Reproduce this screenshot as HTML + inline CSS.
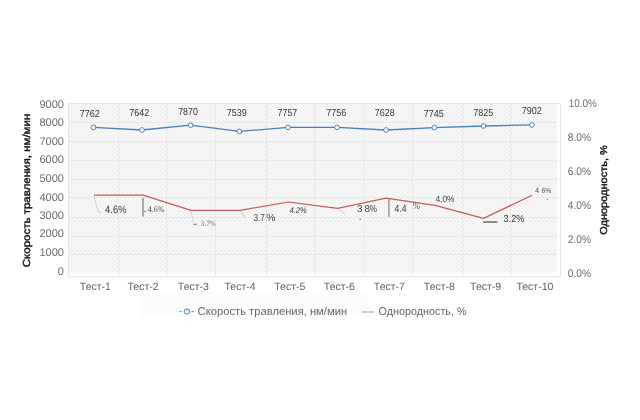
<!DOCTYPE html>
<html><head><meta charset="utf-8">
<style>
html,body{margin:0;padding:0;background:#fff;}
body{width:640px;height:420px;overflow:hidden;}
svg{display:block;filter:blur(0.3px);}
text{text-rendering:geometricPrecision;font-family:"Liberation Sans",Arial,sans-serif;}
.ax{font-size:11px;fill:#6b6b6b;}
.cat{font-size:10.5px;fill:#5f5f5f;}
.dl{font-size:10.1px;fill:#333;}
.ttl{font-size:10.5px;font-weight:normal;fill:#111;stroke:#111;stroke-width:0.38px;}
.lg{font-size:11.3px;fill:#666;}
.serif{font-family:"Liberation Serif",serif;}
</style></head>
<body>
<svg width="640" height="420" viewBox="0 0 640 420">
<defs>
<pattern id="hatch" patternUnits="userSpaceOnUse" x="0" y="0" width="4" height="4">
<rect width="4" height="4" fill="#f5f5f5"/>
<rect x="0" y="0" width="1" height="1" fill="#fbfbfb"/>
<rect x="1" y="1" width="1" height="1" fill="#fbfbfb"/>
<rect x="2" y="2" width="1" height="1" fill="#fbfbfb"/>
<rect x="3" y="3" width="1" height="1" fill="#fbfbfb"/>
<rect x="2" y="0" width="1" height="1" fill="#eeeeee"/>
<rect x="3" y="1" width="1" height="1" fill="#eeeeee"/>
<rect x="0" y="2" width="1" height="1" fill="#eeeeee"/>
<rect x="1" y="3" width="1" height="1" fill="#eeeeee"/>
</pattern>
</defs>
<rect width="640" height="420" fill="#fff"/>
<!-- plot area -->
<rect x="68" y="103" width="489" height="169.5" fill="url(#hatch)"/>
<rect x="68.5" y="103.5" width="492" height="173.3" fill="none" stroke="#e6e6e6" stroke-width="1"/>
<!-- horizontal gridlines -->
<g stroke="#e9e9e9" stroke-width="1">
<line x1="68" x2="557" y1="122.5" y2="122.5"/>
<line x1="68" x2="557" y1="141.5" y2="141.5"/>
<line x1="68" x2="557" y1="160.5" y2="160.5"/>
<line x1="68" x2="557" y1="179.5" y2="179.5"/>
<line x1="68" x2="557" y1="197.5" y2="197.5"/>
<line x1="68" x2="557" y1="217.5" y2="217.5"/>
<line x1="68" x2="557" y1="236.5" y2="236.5"/>
<line x1="68" x2="557" y1="254.5" y2="254.5"/>
</g>
<!-- vertical gridlines -->
<g stroke="#e9e9e9" stroke-width="1">
<line y1="103" y2="276.5" x1="118.5" x2="118.5"/>
<line y1="103" y2="276.5" x1="166.5" x2="166.5"/>
<line y1="103" y2="276.5" x1="215.5" x2="215.5"/>
<line y1="103" y2="276.5" x1="266.5" x2="266.5"/>
<line y1="103" y2="276.5" x1="315" x2="315"/>
<line y1="103" y2="276.5" x1="364" x2="364"/>
<line y1="103" y2="276.5" x1="412.5" x2="412.5"/>
<line y1="103" y2="276.5" x1="462.5" x2="462.5"/>
<line y1="103" y2="276.5" x1="510.5" x2="510.5"/>
</g>

<!-- red series -->
<polyline fill="none" stroke="#c65a5a" stroke-width="1.25" stroke-linejoin="round"
 points="94,195.2 143,195.2 191,210.4 240,210.4 288.5,202 337.6,208.4 386,198.2 435,205.4 483.5,218.4 532,195.3"/>

<!-- blue series -->
<polyline fill="none" stroke="#4a7ebb" stroke-width="1.3" stroke-linejoin="round"
 points="93.4,127.4 142,130 190.6,125.2 239.4,131.4 288,127.4 337,127.4 386,130 434.4,127.6 483.5,126 532,124.9"/>
<g fill="#fff" stroke="#4f82c0" stroke-width="1">
<circle cx="93.4" cy="127.4" r="2.35"/>
<circle cx="142" cy="130" r="2.35"/>
<circle cx="190.6" cy="125.2" r="2.35"/>
<circle cx="239.4" cy="131.4" r="2.35"/>
<circle cx="288" cy="127.4" r="2.35"/>
<circle cx="337" cy="127.4" r="2.35"/>
<circle cx="386" cy="130" r="2.35"/>
<circle cx="434.4" cy="127.6" r="2.35"/>
<circle cx="483.5" cy="126" r="2.35"/>
<circle cx="532" cy="124.9" r="2.35"/>
</g>

<!-- blue data labels -->
<g class="dl">
<text x="79.8" y="116.6" textLength="20" lengthAdjust="spacingAndGlyphs">7762</text>
<text x="129.2" y="116" textLength="20" lengthAdjust="spacingAndGlyphs">7642</text>
<text x="178.2" y="114.7" textLength="19.6" lengthAdjust="spacingAndGlyphs">7870</text>
<text x="226.8" y="116" textLength="20" lengthAdjust="spacingAndGlyphs">7539</text>
<text x="277.6" y="116.4" textLength="19.6" lengthAdjust="spacingAndGlyphs">7757</text>
<text x="326.2" y="116.4" textLength="20" lengthAdjust="spacingAndGlyphs">7756</text>
<text x="374.8" y="115.6" textLength="20" lengthAdjust="spacingAndGlyphs">7628</text>
<text x="423.8" y="117.2" textLength="20" lengthAdjust="spacingAndGlyphs">7745</text>
<text x="473.2" y="115.6" textLength="20" lengthAdjust="spacingAndGlyphs">7825</text>
<text x="521.8" y="114" textLength="20" lengthAdjust="spacingAndGlyphs">7902</text>
</g>

<!-- red data labels -->
<!-- 1 -->
<polyline points="94,196 98.2,212 101.5,212" fill="none" stroke="#c4c4c4" stroke-width="0.8"/>
<text class="dl" x="105.1" y="212.8" textLength="21.4" lengthAdjust="spacingAndGlyphs" style="fill:#404040;font-size:10.6px">4.6%</text>
<!-- 2 -->
<rect x="142" y="198" width="2" height="18.5" fill="#a8a8a8"/>
<rect x="144" y="210.6" width="2.4" height="1.5" fill="#a8a8a8"/>
<text class="serif" x="147.8" y="212.1" font-size="8.6" textLength="16.5" lengthAdjust="spacingAndGlyphs" fill="#444">4.6%</text>
<!-- 3 -->
<line x1="191" y1="211" x2="193.5" y2="222" stroke="#c8c8c8" stroke-width="0.8"/>
<rect x="193.4" y="223.8" width="3.6" height="0.8" fill="#555"/>
<text class="serif" x="200.8" y="225.7" font-size="7.9" textLength="15" lengthAdjust="spacingAndGlyphs" fill="#707070">3.7%</text>
<!-- 4 -->
<line x1="240.5" y1="211" x2="245" y2="217.5" stroke="#999" stroke-width="0.6"/>
<text x="253.4" y="221" font-size="10.2" textLength="11.6" lengthAdjust="spacingAndGlyphs" fill="#484848">3.7</text>
<text x="266.2" y="221" font-size="10.2" textLength="9.3" lengthAdjust="spacingAndGlyphs" fill="#484848">%</text>
<!-- 5 -->
<text x="289.4" y="212.8" font-size="8.2" font-style="italic" textLength="17.4" lengthAdjust="spacingAndGlyphs" fill="#3a3a3a">4.2%</text>
<!-- 6 -->
<line x1="338" y1="209" x2="345" y2="213.5" stroke="#c4c4c4" stroke-width="0.8"/>
<text x="357" y="211.8" font-size="10" fill="#404040">3</text>
<text x="364.6" y="211.8" font-size="10" fill="#404040">8</text>
<text x="369.8" y="211.8" font-size="10" textLength="7.2" lengthAdjust="spacingAndGlyphs" fill="#404040">%</text>
<rect x="359.6" y="218.7" width="1.2" height="1.2" fill="#555"/>
<!-- 7 -->
<rect x="388" y="198.5" width="1.8" height="18.3" fill="#a8a8a8"/>
<text x="394.6" y="211.9" font-size="10.4" textLength="12" lengthAdjust="spacingAndGlyphs" fill="#404040">4.4</text>
<text class="serif" x="412.8" y="209.4" font-size="9.6" textLength="7.2" lengthAdjust="spacingAndGlyphs" fill="#4a4a4a">%</text>
<!-- 8 -->
<text x="435.4" y="202.1" font-size="9.1" textLength="19.2" lengthAdjust="spacingAndGlyphs" fill="#444">4.0%</text>
<!-- 9 -->
<rect x="483" y="221.3" width="14.5" height="1.5" fill="#6a6a6a"/>
<text x="503.5" y="222" font-size="10.3" textLength="21" lengthAdjust="spacingAndGlyphs" fill="#404040">3.2%</text>
<!-- 10 -->
<text x="535" y="193" font-size="7.6" fill="#555">4</text>
<text x="541.5" y="193" font-size="7.6" textLength="9.7" lengthAdjust="spacingAndGlyphs" fill="#555">6%</text>
<rect x="546.7" y="198.8" width="1" height="1" fill="#666"/>

<!-- left axis labels -->
<g class="ax" text-anchor="end">
<text x="63.9" y="107.80">9000</text>
<text x="63.9" y="126.20">8000</text>
<text x="63.9" y="144.80">7000</text>
<text x="63.9" y="163.20">6000</text>
<text x="63.9" y="182.00">5000</text>
<text x="63.9" y="200.60">4000</text>
<text x="63.9" y="218.60">3000</text>
<text x="63.9" y="237.20">2000</text>
<text x="63.9" y="255.60">1000</text>
<text x="63.9" y="274.90">0</text>
</g>
<!-- right axis labels -->
<g class="ax">
<text x="568.8" y="106.9" textLength="28" lengthAdjust="spacingAndGlyphs">10.0%</text>
<text x="567.8" y="140.9" textLength="23.2" lengthAdjust="spacingAndGlyphs">8.0%</text>
<text x="567.8" y="174.9" textLength="23.2" lengthAdjust="spacingAndGlyphs">6.0%</text>
<text x="567.8" y="208.9" textLength="23.2" lengthAdjust="spacingAndGlyphs">4.0%</text>
<text x="567.8" y="242.7" textLength="23.2" lengthAdjust="spacingAndGlyphs">2.0%</text>
<text x="567.8" y="276.6" textLength="23.2" lengthAdjust="spacingAndGlyphs">0.0%</text>
</g>
<!-- category labels -->
<g class="cat" text-anchor="middle">
<text x="95.4" y="290.2">Тест-1</text>
<text x="143" y="290.2">Тест-2</text>
<text x="193.4" y="290.2">Тест-3</text>
<text x="240" y="290.2">Тест-4</text>
<text x="289.8" y="290.2">Тест-5</text>
<text x="339.4" y="290.2">Тест-6</text>
<text x="389.4" y="290.2">Тест-7</text>
<text x="439.4" y="290.2">Тест-8</text>
<text x="485.6" y="290.2">Тест-9</text>
<text x="534.9" y="290.2">Тест-10</text>
</g>
<!-- axis titles -->
<text class="ttl" transform="translate(29.6,267.2) rotate(-90)" style="font-size:10.3px" textLength="153.5" lengthAdjust="spacingAndGlyphs">Скорость травления, нм/мин</text>
<text class="ttl" transform="translate(607.2,234.8) rotate(-90)" style="font-size:10px" textLength="89.6" lengthAdjust="spacingAndGlyphs">Однородность, %</text>

<!-- legend -->
<rect x="140.6" y="291.2" width="227.4" height="25.4" fill="#fcfcfc"/>
<g stroke="#6f96d2" fill="none" stroke-width="1.1">
<line x1="179.3" y1="311.6" x2="181.8" y2="311.6"/>
<ellipse cx="186.9" cy="311.6" rx="2.7" ry="2.5"/>
<line x1="191.5" y1="311.6" x2="193.9" y2="311.6"/>
</g>
<text class="lg" x="197.6" y="314.6" textLength="149.5" lengthAdjust="spacingAndGlyphs">Скорость травления, нм/мин</text>
<line x1="361.9" y1="312" x2="367.6" y2="312" stroke="#d9a3a3" stroke-width="1.4"/>
<line x1="368.2" y1="312" x2="374" y2="312" stroke="#d9a3a3" stroke-width="1.4"/>
<text class="lg" x="378.6" y="314.6" textLength="88" lengthAdjust="spacingAndGlyphs">Однородность, %</text>
</svg>
</body></html>
